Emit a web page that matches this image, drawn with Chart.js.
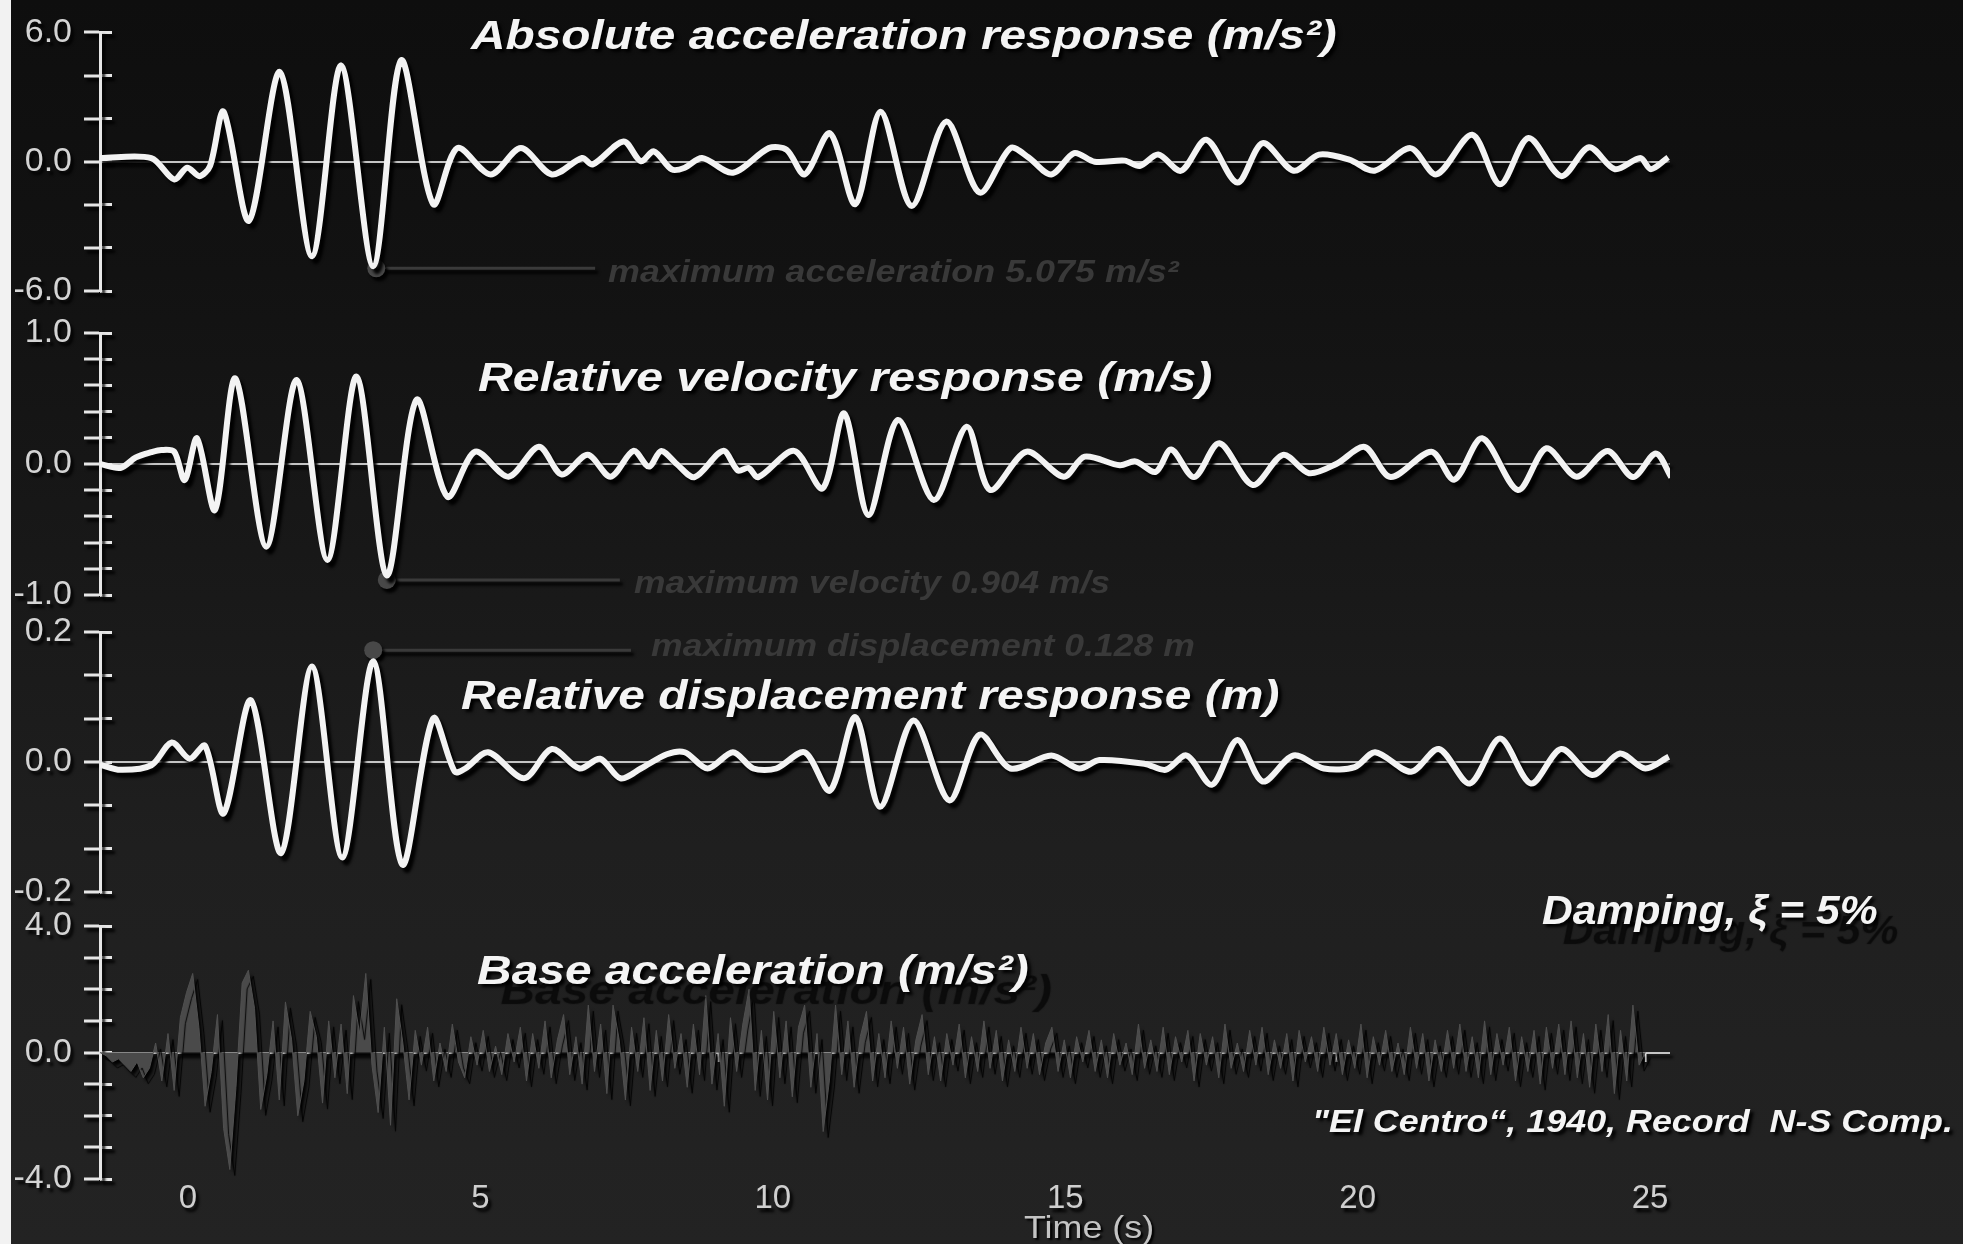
<!DOCTYPE html>
<html lang="en">
<head>
<meta charset="UTF-8">
<title>SDOF response - El Centro 1940</title>
<script src="https://cdn.jsdelivr.net/npm/chart.js"></script>
<style>
    body { margin: 0; background: #f4f4f4; }
    #wrap {
        position: relative; width: 1963px; height: 1244px; overflow: hidden;
        background: linear-gradient(#0e0e0e 0%, #121212 22%, #191919 48%, #1f1f1f 68%, #232323 100%);
        border-left: 11px solid #f2f2f2; box-sizing: border-box;
    }
    canvas { position: absolute; left: -11px; top: 0; }
    .txt {
        position: absolute; white-space: nowrap; line-height: 1;
        font-family: "Liberation Sans", Arial, sans-serif; transform-origin: 0 50%;
    }
    .title { font-weight: bold; font-style: italic; color: #f4f4f4; font-size: 41px; text-shadow: 3px 3px 3px #000; }
    .ghost { text-shadow: 3px 3px 3px #000, 20px 20px 1px #0b0b0b; }
    .note { font-style: italic; font-weight: bold; color: #393939; font-size: 31px; }
</style>
</head>
<body>
<div id="wrap">
    <canvas id="c1" width="1963" height="1244"></canvas>
    <canvas id="c2" width="1963" height="1244"></canvas>
    <canvas id="c3" width="1963" height="1244"></canvas>
    <canvas id="c4" width="1963" height="1244"></canvas>

    <div class="txt title" data-x="471" data-y="35" data-w="866">Absolute acceleration response (m/s²)</div>
    <div class="txt title" data-x="478" data-y="377" data-w="734">Relative velocity response (m/s)</div>
    <div class="txt title" data-x="461" data-y="695" data-w="819">Relative displacement response (m)</div>
    <div class="txt title ghost" data-x="477" data-y="970" data-w="552">Base acceleration (m/s²)</div>
    <div class="txt title ghost" data-x="1542" data-y="910" data-w="336">Damping, ξ = 5%</div>
    <div class="txt title" style="font-size:31px" data-x="1312" data-y="1121" data-w="641">"El Centro“, 1940, Record&nbsp; N-S Comp.</div>
    <div class="txt note" data-x="608" data-y="271" data-w="571">maximum acceleration 5.075 m/s²</div>
    <div class="txt note" data-x="634" data-y="582" data-w="476">maximum velocity 0.904 m/s</div>
    <div class="txt note" data-x="651" data-y="645" data-w="544">maximum displacement 0.128 m</div>
    <div class="txt" style="font-size:32px;color:#c4c4c4;text-shadow:2px 2px 2px #000" data-x="1024" data-y="1227" data-w="130">Time (s)</div>
</div>

<script>
    // absolute acceleration response (m/s2): time (s), value
    const accT = [0, 0.83, 1.20, 1.41, 1.61, 1.78, 2.00, 2.41, 2.91, 3.43, 3.90, 4.42, 4.87, 5.39, 5.78, 6.32, 6.81, 7.31, 7.80, 7.97, 8.47, 8.75, 8.96, 9.25, 9.46, 9.74, 10.24, 10.82, 11.11, 11.40, 11.81, 12.22, 12.63, 13.13, 13.69, 14.23, 14.73, 15.02, 15.39, 15.76, 16.09, 16.58, 16.82, 17.12, 17.49, 17.90, 18.40, 18.81, 19.31, 19.72, 20.21, 20.62, 21.20, 21.62, 22.20, 22.65, 23.11, 23.64, 24.09, 24.51, 24.92, 25.09, 25.37];
    const accV = [0.17, 0.17, -0.82, -0.28, -0.67, -0.2, 2.32, -2.74, 4.16, -4.39, 4.47, -4.85, 4.70, -1.97, 0.63, -0.59, 0.63, -0.59, 0.17, -0.13, 0.94, 0.02, 0.48, -0.36, -0.28, 0.17, -0.51, 0.63, 0.55, -0.59, 1.32, -1.97, 2.32, -2.05, 1.86, -1.43, 0.63, 0.2, -0.59, 0.40, 0.0, 0.05, -0.2, 0.33, -0.42, 1.02, -0.97, 0.86, -0.42, 0.33, 0.1, -0.42, 0.63, -0.59, 1.25, -1.05, 1.1, -0.67, 0.67, -0.35, 0.17, -0.35, 0.2];

    // relative velocity response (m/s)
    const velT = [0, 0.33, 0.58, 0.83, 0.99, 1.20, 1.37, 1.57, 1.86, 2.19, 2.69, 3.18, 3.68, 4.15, 4.64, 5.12, 5.62, 6.07, 6.61, 7.10, 7.47, 7.89, 8.26, 8.63, 8.88, 9.08, 9.33, 9.62, 10.08, 10.32, 10.49, 10.65, 11.23, 11.69, 12.04, 12.43, 12.91, 13.49, 14.02, 14.40, 14.99, 15.59, 15.93, 16.50, 16.75, 17.08, 17.33, 17.70, 18.11, 18.65, 19.14, 19.56, 20.00, 20.46, 20.88, 21.54, 21.91, 22.36, 22.94, 23.40, 23.89, 24.39, 24.80, 25.17, 25.42];
    const velV = [0, -0.03, 0.05, 0.09, 0.107, 0.094, -0.122, 0.196, -0.351, 0.654, -0.631, 0.641, -0.733, 0.667, -0.85, 0.489, -0.25, 0.094, -0.097, 0.132, -0.08, 0.07, -0.097, 0.10, -0.02, 0.10, 0.0, -0.1, 0.1, -0.05, -0.03, -0.1, 0.1, -0.186, 0.387, -0.389, 0.336, -0.275, 0.285, -0.198, 0.094, -0.097, 0.056, -0.01, 0.02, -0.06, 0.11, -0.1, 0.158, -0.16, 0.07, -0.07, 0.0, 0.13, -0.1, 0.094, -0.12, 0.196, -0.198, 0.12, -0.097, 0.1, -0.1, 0.08, -0.1];

    // relative displacement response (m)
    const dispT = [0, 0.33, 0.83, 1.16, 1.45, 1.70, 2.00, 2.44, 2.93, 3.43, 3.92, 4.42, 4.89, 5.39, 5.74, 5.91, 6.28, 6.86, 7.31, 7.76, 8.09, 8.42, 8.75, 9.17, 9.46, 9.83, 10.24, 10.57, 10.94, 11.40, 11.81, 12.22, 12.62, 13.16, 13.74, 14.23, 14.73, 15.39, 15.84, 16.17, 16.91, 17.24, 17.58, 17.99, 18.40, 18.81, 19.31, 19.80, 20.30, 20.63, 21.21, 21.66, 22.16, 22.65, 23.15, 23.64, 24.14, 24.59, 25.00, 25.38];
    const dispV = [-0.004, -0.012, -0.005, 0.03, 0.005, 0.025, -0.079, 0.095, -0.14, 0.147, -0.147, 0.155, -0.158, 0.067, -0.015, -0.01, 0.015, -0.025, 0.02, -0.01, 0.005, -0.025, -0.01, 0.012, 0.015, -0.01, 0.015, -0.01, -0.01, 0.015, -0.044, 0.069, -0.069, 0.064, -0.059, 0.042, -0.01, 0.01, -0.01, 0.003, -0.003, -0.012, 0.01, -0.035, 0.034, -0.03, 0.01, -0.01, -0.008, 0.015, -0.015, 0.02, -0.033, 0.036, -0.033, 0.02, -0.02, 0.013, -0.01, 0.008];

    // base (ground) acceleration record (m/s2), sampled every 0.1 s
    const baseT = [
        0.0, 0.1, 0.2, 0.3, 0.4, 0.5, 0.6, 0.7, 0.8, 0.9, 1.0, 1.1, 1.2, 1.3, 1.4, 1.5, 1.6, 1.7, 1.8, 1.9,
        2.0, 2.1, 2.2, 2.3, 2.4, 2.5, 2.6, 2.7, 2.8, 2.9, 3.0, 3.1, 3.2, 3.3, 3.4, 3.5, 3.6, 3.7, 3.8, 3.9,
        4.0, 4.1, 4.2, 4.3, 4.4, 4.5, 4.6, 4.7, 4.8, 4.9, 5.0, 5.1, 5.2, 5.3, 5.4, 5.5, 5.6, 5.7, 5.8, 5.9,
        6.0, 6.1, 6.2, 6.3, 6.4, 6.5, 6.6, 6.7, 6.8, 6.9, 7.0, 7.1, 7.2, 7.3, 7.4, 7.5, 7.6, 7.7, 7.8, 7.9,
        8.0, 8.1, 8.2, 8.3, 8.4, 8.5, 8.6, 8.7, 8.8, 8.9, 9.0, 9.1, 9.2, 9.3, 9.4, 9.5, 9.6, 9.7, 9.8, 9.9,
        10.0, 10.1, 10.2, 10.3, 10.4, 10.5, 10.6, 10.7, 10.8, 10.9, 11.0, 11.1, 11.2, 11.3, 11.4, 11.5, 11.6, 11.7, 11.8, 11.9,
        12.0, 12.1, 12.2, 12.3, 12.4, 12.5, 12.6, 12.7, 12.8, 12.9, 13.0, 13.1, 13.2, 13.3, 13.4, 13.5, 13.6, 13.7, 13.8, 13.9,
        14.0, 14.1, 14.2, 14.3, 14.4, 14.5, 14.6, 14.7, 14.8, 14.9, 15.0, 15.1, 15.2, 15.3, 15.4, 15.5, 15.6, 15.7, 15.8, 15.9,
        16.0, 16.1, 16.2, 16.3, 16.4, 16.5, 16.6, 16.7, 16.8, 16.9, 17.0, 17.1, 17.2, 17.3, 17.4, 17.5, 17.6, 17.7, 17.8, 17.9,
        18.0, 18.1, 18.2, 18.3, 18.4, 18.5, 18.6, 18.7, 18.8, 18.9, 19.0, 19.1, 19.2, 19.3, 19.4, 19.5, 19.6, 19.7, 19.8, 19.9,
        20.0, 20.1, 20.2, 20.3, 20.4, 20.5, 20.6, 20.7, 20.8, 20.9, 21.0, 21.1, 21.2, 21.3, 21.4, 21.5, 21.6, 21.7, 21.8, 21.9,
        22.0, 22.1, 22.2, 22.3, 22.4, 22.5, 22.6, 22.7, 22.8, 22.9, 23.0, 23.1, 23.2, 23.3, 23.4, 23.5, 23.6, 23.7, 23.8, 23.9,
        24.0, 24.1, 24.2, 24.3, 24.4, 24.5, 24.6, 24.7, 24.8, 24.9, 25.0
    ];
    const baseV = [
        0, -0.1, -0.3, -0.2, -0.4, -0.6, -0.3, -0.8, -0.5, 0.3, -0.9, 0.6, -1.2, 1.1, 1.9, 2.5, 0.8, -1.7, -0.6, 1.2,
        -2.4, -3.7, -1.1, 2.2, 2.6, 1.4, -1.8, -0.7, 1.0, -1.5, 1.6, 0.4, -2.0, -0.9, 1.3, 0.5, -1.6, 1.0, -0.8, 0.9,
        -1.3, 1.8, 0.6, 2.5, -0.4, -1.9, 0.8, -2.3, 1.7, 0.3, -1.5, 0.7, -0.4, 0.8, -0.9, 0.3, -0.6, 0.9, -0.3, -0.8,
        0.5, -0.4, 0.7, -0.6, 0.2, -0.7, 0.6, -0.3, 0.8, -0.9, 0.6, -0.5, 1.0, -0.8, 0.4, 1.2, -0.7, 0.5, -1.0, 1.5,
        -0.6, 0.9, -1.3, 1.5, 0.4, -1.5, 0.8, -0.6, 1.1, -1.2, 0.7, -0.9, 1.2, -0.5, 0.6, -1.1, 0.9, -0.7, 1.8, -1.0,
        0.6, -1.7, 1.1, -0.6, 0.9, 2.0, -1.2, 0.7, -1.5, 1.3, -0.8, 1.0, -1.4, 0.8, 1.5, -1.1, 0.6, -2.5, -0.9, 1.5,
        -0.7, 1.0, -1.1, 0.5, 1.3, -0.9, 0.6, -0.8, 1.0, -0.5, 0.8, -1.0, 0.4, 1.2, -0.7, 0.5, -0.9, 0.6, -0.4, 0.9,
        -0.8, 0.5, -0.6, 1.0, -0.5, 0.7, -0.9, 0.4, -0.6, 0.8, -0.5, 0.6, -0.7, 0.3, 0.8, -0.6, 0.4, -0.8, 0.5, -0.3,
        0.7, -0.6, 0.4, -0.8, 0.6, -0.4, 0.3, -0.7, 0.9, -0.5, 0.4, -0.6, 0.8, -0.7, 0.5, -0.3, 0.7, -0.9, 0.6, -0.4,
        0.5, -0.8, 0.9, -0.5, 0.3, -0.6, 0.7, -0.4, 0.8, -0.7, 0.4, -0.5, 0.6, -0.9, 0.7, -0.3, 0.5, -0.6, 0.8, -0.4,
        0.6, -0.7, 0.4, -0.5, 0.9, -0.8, 0.5, -0.4, 0.7, -0.6, 0.3, -0.7, 0.8, -0.5, 0.6, -0.9, 0.4, -0.6, 0.7, -0.5,
        0.9, -0.6, 0.5, -0.8, 1.0, -0.7, 0.6, -0.4, 0.8, -0.9, 0.5, -0.6, 0.7, -1.0, 0.8, -0.5, 0.9, -0.7, 1.0, -0.8,
        0.6, -1.1, 0.9, -0.6, 1.2, -1.3, 0.7, -0.9, 1.5, -0.4, 0
    ];

    // peak markers: [time, value, end time of leader line]
    const accPeak = [4.47, -4.95, 8.01];
    const velPeak = [4.64, -0.885, 8.41];
    const dispPeak = [4.42, 0.172, 8.59];

    // axis ticks
    const accTicks = [-6, -4, -2, 0, 2, 4, 6];
    const velTicks = [-1, -0.8, -0.6, -0.4, -0.2, 0, 0.2, 0.4, 0.6, 0.8, 1];
    const dispTicks = [-0.2, -0.1333, -0.0667, 0, 0.0667, 0.1333, 0.2];
    const baseTicks = [-4, -3, -2, -1, 0, 1, 2, 3, 4];
    const timeLabels = [0, 5, 10, 15, 20, 25];
    const timeTicks = [5, 10, 15, 20, 25];

    const H = 1244;
    const tMax = 25.4;
    const axisColor = '#e6e6e6';

    function pts(ts, vs) {
        return ts.map((t, i) => ({ x: t, y: vs[i] }));
    }

    // draw everything with a dark drop shadow, like the original picture
    const shadowPlugin = {
        id: 'shadow',
        beforeDraw(chart) {
            const ctx = chart.ctx;
            ctx.save();
            ctx.shadowColor = 'rgba(0,0,0,0.95)';
            ctx.shadowOffsetX = 3;
            ctx.shadowOffsetY = 4;
            ctx.shadowBlur = 3;
        },
        beforeDatasetDraw(chart, args) {
            const s = chart.data.datasets[args.index].shadow;
            if (!s) return;
            const ctx = chart.ctx;
            ctx.save();
            ctx.shadowColor = s.color;
            ctx.shadowOffsetX = s.x;
            ctx.shadowOffsetY = s.y;
            ctx.shadowBlur = s.blur;
        },
        afterDatasetDraw(chart, args) {
            if (chart.data.datasets[args.index].shadow) chart.ctx.restore();
        },
        afterDraw(chart) {
            chart.ctx.restore();
        }
    };

    function responseLine(data) {
        return {
            data: data, yAxisID: 'y', order: 1,
            borderColor: '#f3f3f3', borderWidth: 6, tension: 0.3,
            pointRadius: 0, fill: false,
            shadow: { color: 'rgba(0,0,0,0.95)', x: 4, y: 5, blur: 3 }
        };
    }

    function peakLine(p) {
        return {
            data: [{ x: p[0], y: p[1] }, { x: p[2], y: p[1] }], yAxisID: 'y', order: 2,
            borderColor: '#3a3a3a', borderWidth: 3, tension: 0,
            pointRadius: [9, 0], pointBackgroundColor: '#484848', pointBorderWidth: 0
        };
    }

    function yScales(min, max, ticks) {
        const setTicks = s => { s.ticks = ticks.map(v => ({ value: v })); };
        return {
            y: {
                type: 'linear', position: 'left', min: min, max: max,
                afterBuildTicks: setTicks,
                afterFit: s => { s.width = 100; },
                ticks: {
                    autoSkip: false, padding: 12, color: '#d4d4d4',
                    font: { family: 'Liberation Sans, Arial', size: 34 },
                    callback: v => (v === min || v === max || v === 0) ? v.toFixed(1) : ''
                },
                grid: {
                    color: c => (c.tick && c.tick.value === 0) ? '#c4c4c4' : 'rgba(0,0,0,0)',
                    lineWidth: 2, tickLength: 16, tickColor: axisColor, tickWidth: 3
                },
                border: { color: axisColor, width: 3 }
            },
            // short inner half of the cross-shaped tick marks
            yin: {
                type: 'linear', position: { x: 0 }, min: min, max: max,
                afterBuildTicks: setTicks,
                ticks: { display: false },
                grid: { drawOnChartArea: false, tickLength: -12, tickColor: axisColor, tickWidth: 3 },
                border: { display: false }
            }
        };
    }

    function makeChart(id, top, bottom, min, max, ticks, datasets, bottomAxis) {
        const scales = yScales(min, max, ticks);
        scales.x = { type: 'linear', min: 0, max: tMax, display: false };
        let extra = 0;
        if (bottomAxis) {
            extra = 45;
            scales.x = {
                type: 'linear', min: 0, max: tMax, position: { y: 0 },
                afterBuildTicks: s => { s.ticks = timeTicks.map(v => ({ value: v })); },
                ticks: { display: false },
                grid: { drawOnChartArea: false, tickLength: 9, tickColor: axisColor, tickWidth: 2 },
                border: { display: false }
            };
            // time labels as printed under the plot
            scales.xlab = {
                type: 'linear', position: 'bottom', min: -1.505, max: 25.34,
                afterBuildTicks: s => { s.ticks = timeLabels.map(v => ({ value: v })); },
                afterFit: s => { s.height = extra; },
                ticks: {
                    autoSkip: false, maxRotation: 0, padding: 0, color: '#cfcfcf',
                    font: { family: 'Liberation Sans, Arial', size: 33 }
                },
                grid: { display: false, drawTicks: false },
                border: { display: false }
            };
        }
        return new Chart(document.getElementById(id), {
            type: 'line',
            data: { datasets: datasets },
            options: {
                responsive: false, animation: false, events: [],
                layout: { padding: { top: top, bottom: H - bottom - extra, left: 0, right: 293 } },
                plugins: { legend: { display: false }, tooltip: { enabled: false } },
                scales: scales
            },
            plugins: [shadowPlugin]
        });
    }

    makeChart('c1', 30, 291, -6, 6, accTicks, [responseLine(pts(accT, accV)), peakLine(accPeak)]);
    makeChart('c2', 333, 595, -1, 1, velTicks, [responseLine(pts(velT, velV)), peakLine(velPeak)]);
    makeChart('c3', 632, 892, -0.2, 0.2, dispTicks, [responseLine(pts(dispT, dispV)), peakLine(dispPeak)]);
    makeChart('c4', 926, 1179, -4, 4, baseTicks, [{
        data: pts(baseT, baseV), yAxisID: 'y',
        borderColor: '#505050', backgroundColor: '#4a4a4a', borderWidth: 1,
        fill: 'origin', tension: 0, pointRadius: 0,
        shadow: { color: '#000', x: 5, y: 6, blur: 1 }
    }], true);

    // place the overlay texts and stretch them to the measured widths
    document.querySelectorAll('.txt').forEach(el => {
        const fs = parseFloat(getComputedStyle(el).fontSize);
        el.style.left = (el.dataset.x - 11) + 'px';
        el.style.top = (el.dataset.y - 0.49 * fs) + 'px';
        const k = el.dataset.w / el.offsetWidth;
        el.style.transform = 'scaleX(' + k + ')';
    });
</script>
</body>
</html>
